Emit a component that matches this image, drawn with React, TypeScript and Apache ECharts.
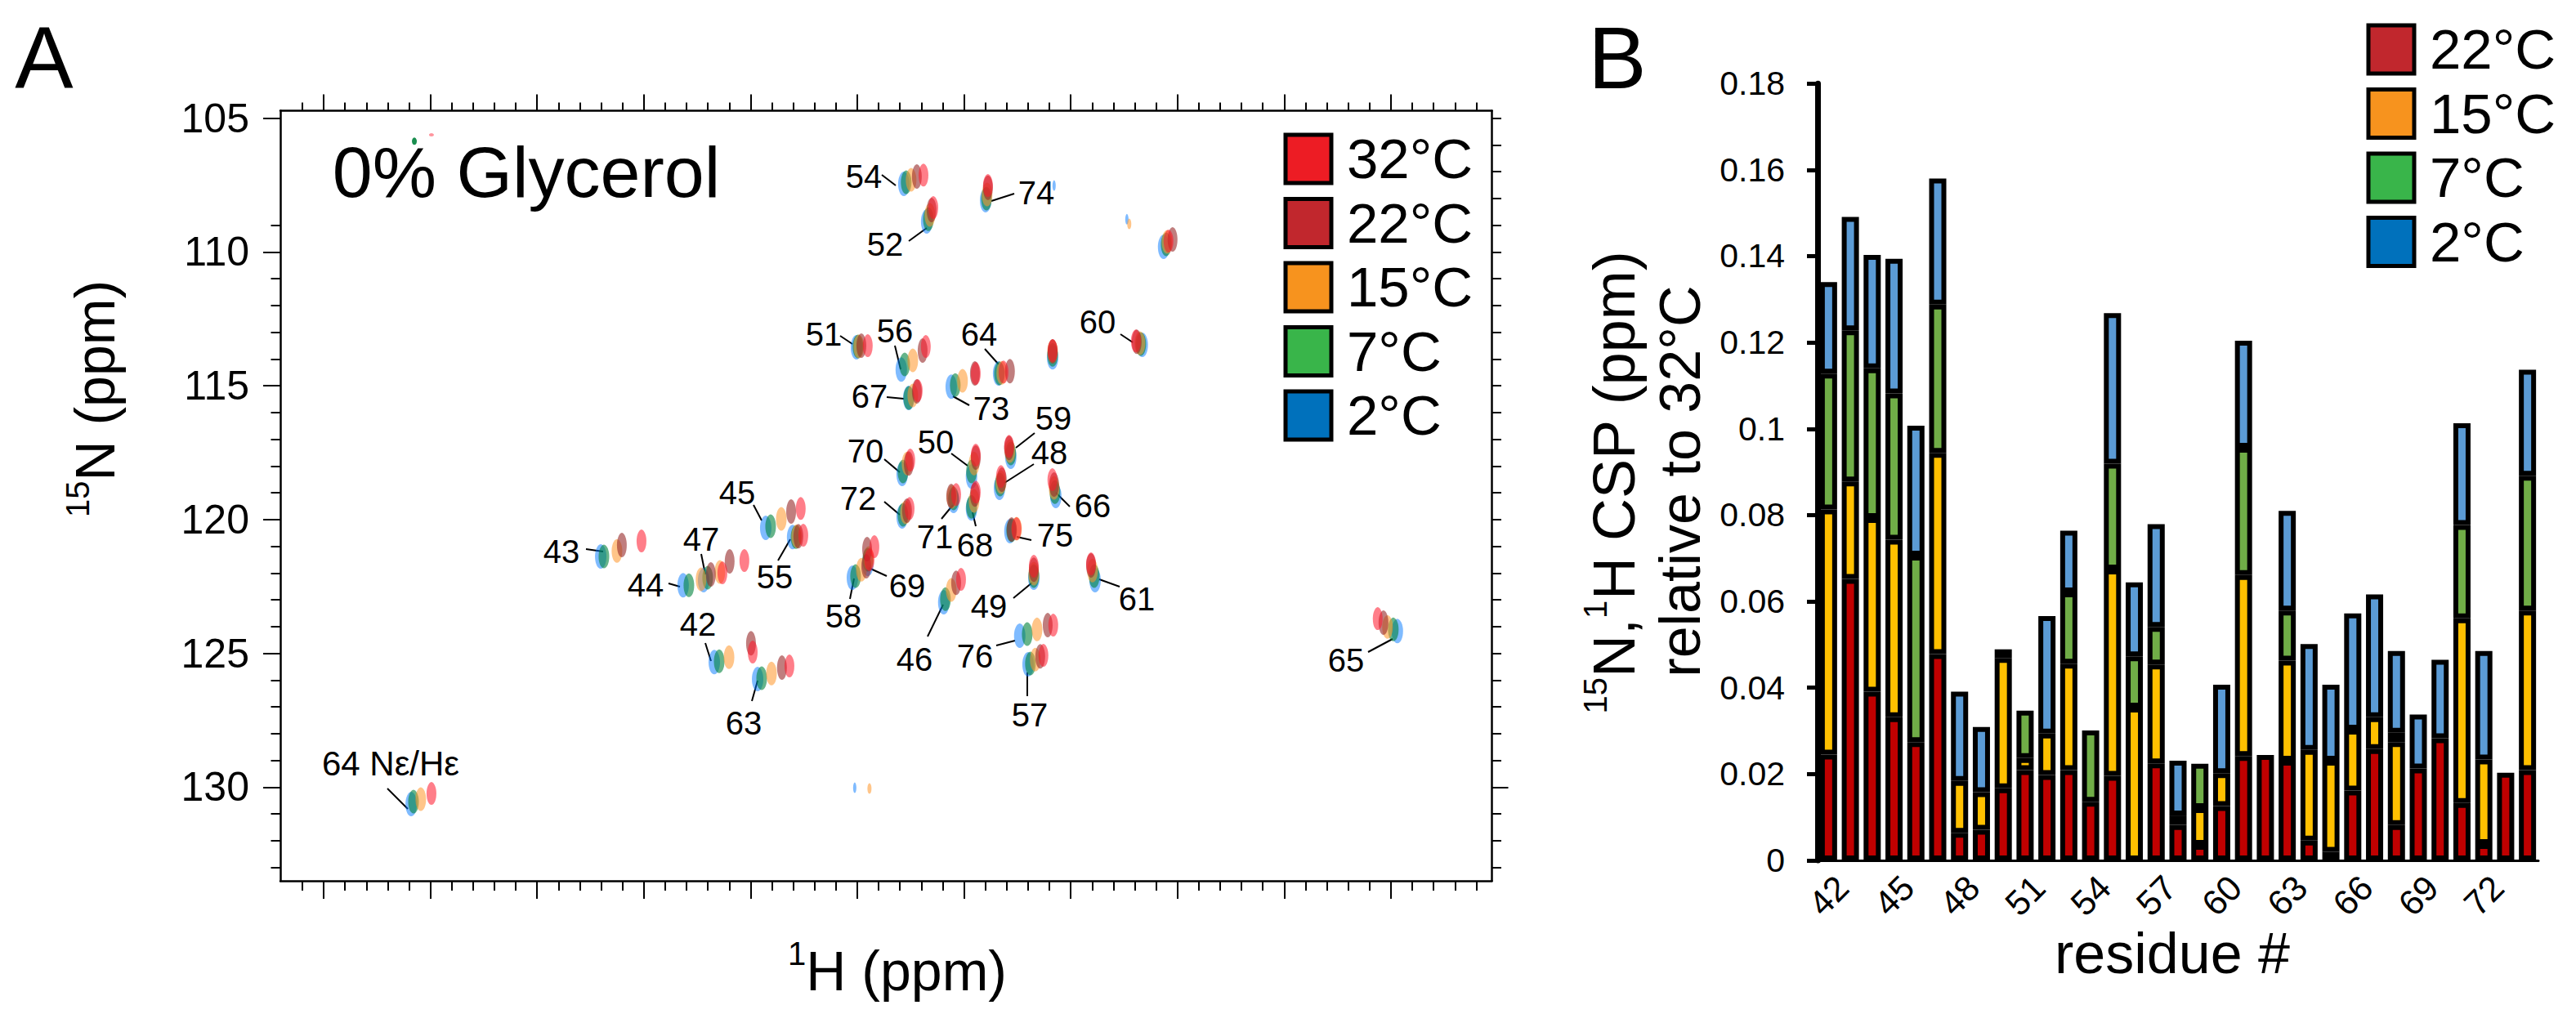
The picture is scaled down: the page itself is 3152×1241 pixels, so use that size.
import React, { useEffect, useRef } from "react";
import * as echarts from "echarts";

const FONT = "'Liberation Sans', Arial, sans-serif";

// ---------- Panel A: 1H/15N peak positions in ppm, one list per temperature.
// Order: 43 44 47 45 55 42 63 58 69 46 49 61 76 57 72 70 71 68 50 75 48 66 59 54 74 52 (110) 51 56 64 73 67 (114) 60 65 64e
const peaks2C = [[9.702,121.38],[9.316,122.45],[9.220,122.26],[8.929,120.31],[8.803,120.65],[9.170,125.32],[8.967,125.96],[8.523,122.17],[8.451,121.65],[8.095,123.09],[7.673,122.17],[7.386,122.26],[7.739,124.34],[7.700,125.41],[8.290,119.88],[8.290,118.29],[8.049,119.30],[7.965,119.58],[7.965,118.39],[7.785,120.43],[7.834,118.81],[7.570,119.12],[7.781,117.65],[8.282,107.45],[7.899,108.06],[8.175,108.86],[7.065,109.80],[8.504,113.56],[8.294,114.39],[7.838,114.54],[8.060,115.03],[8.259,115.45],[7.585,113.93],[7.165,113.47],[5.970,124.16],[10.590,130.63]];
const peaks7C = [[9.687,121.38],[9.289,122.45],[9.201,122.17],[8.906,120.25],[8.787,120.65],[9.147,125.29],[8.948,125.93],[8.508,122.11],[8.451,121.50],[8.087,122.97],[7.673,122.11],[7.390,122.11],[7.704,124.28],[7.689,125.38],[8.286,119.82],[8.286,118.20],[8.049,119.21],[7.965,119.52],[7.965,118.20],[7.777,120.40],[7.831,118.69],[7.574,118.97],[7.781,117.53],[8.271,107.39],[7.895,108.00],[8.167,108.77],[7.053,109.71],[8.497,113.53],[8.278,114.20],[7.834,114.54],[8.041,114.97],[8.259,115.45],[7.585,113.84],[7.172,113.44],[5.989,124.10],[10.579,130.54]];
const peaks15C = [[9.626,121.17],[9.232,122.23],[9.144,121.96],[8.856,119.97],[8.784,120.62],[9.101,125.14],[8.902,125.75],[8.481,121.87],[8.447,121.44],[8.060,122.63],[7.673,122.02],[7.398,121.90],[7.658,124.10],[7.666,125.23],[8.274,119.73],[8.267,117.90],[8.057,119.15],[7.953,119.30],[7.953,117.90],[7.754,120.34],[7.827,118.60],[7.578,118.81],[7.785,117.44],[8.248,107.30],[7.892,107.85],[8.160,108.61],[7.049,109.62],[8.493,113.53],[8.240,114.05],[7.823,114.51],[8.007,114.81],[8.240,115.36],[7.585,113.71],[7.176,113.41],[6.016,124.01],[10.545,130.45]];
const peaks22C = [[9.603,120.95],[9.186,122.05],[9.098,121.56],[8.810,119.70],[8.776,120.62],[8.998,124.62],[8.853,125.53],[8.458,121.74],[8.454,121.10],[8.037,122.36],[7.673,121.87],[7.405,121.71],[7.608,123.94],[7.643,125.11],[8.267,119.67],[8.259,117.90],[8.060,119.12],[7.949,119.06],[7.945,117.68],[7.777,120.37],[7.823,118.51],[7.578,118.69],[7.789,117.32],[8.221,107.18],[7.888,107.60],[8.152,108.43],[7.023,109.53],[8.481,113.50],[8.194,113.68],[7.785,114.45],[7.949,114.54],[8.221,115.21],[7.585,113.71],[7.191,113.35],[6.035,123.85]];
const peaks32C = [[9.511,120.80],[9.132,121.99],[9.029,121.53],[8.765,119.58],[8.753,120.58],[8.990,124.95],[8.818,125.47],[8.443,121.50],[8.420,121.01],[8.014,122.23],[7.673,121.74],[7.405,121.65],[7.582,123.94],[7.628,125.07],[8.255,119.58],[8.252,117.77],[8.037,119.06],[7.945,118.97],[7.945,117.59],[7.754,120.34],[7.827,118.39],[7.586,118.51],[7.789,117.26],[8.190,107.12],[7.888,107.51],[8.144,108.34],[7.042,109.59],[8.451,113.50],[8.179,113.53],[7.815,114.48],[7.945,114.54],[8.217,115.18],[7.585,113.68],[7.195,113.32],[6.062,123.70],[10.495,130.23]];
const specks2C = [[7.237,108.77],[7.578,107.51],[8.512,130.02]];
const specks7C = [[10.575,105.86]];
const specks15C = [[7.226,108.95],[8.443,130.05]];
const specks32C = [[10.495,105.62]];

const nTickLabels = [105, 110, 115, 120, 125, 130];
const nMinorLeftHidden = [106, 107, 108];
const hMajorTicks = [11, 10.5, 10, 9.5, 9, 8.5, 8, 7.5, 7, 6.5, 6];

// ---------- Panel B: per-temperature CSP contributions
const residues = ["42","43","44","45","46","47","48","49","50","51","52","53","54","55","56","57","58","59","60","61","62","63","64","65","66","67","68","69","70","71","72","73","74"];
const csp22 = [.0245,.0652,.0391,.0332,.0274,.0478,.0064,.0071,.0167,.0209,.0198,.0209,.0136,.0196,null,.0225,.0082,.0036,.0126,.0242,.0244,.0231,.0046,.002,.0162,.0258,.0082,.0213,.0283,.0133,.0038,.0203,.0209];
const csp15 = [.0568,.0226,.0402,.0411,null,.0466,.012,.0087,.0302,.0028,.0096,.0247,null,.0478,.0354,.0229,.0022,.0085,.0076,.0419,null,.0232,.021,.0211,.0141,.0074,.0192,null,null,.0428,.0196,null,.037];
const csp7 = [.0315,.035,.0347,.0339,.0432,.0344,null,null,.002,.011,null,.0165,.0165,.0245,.0119,.0087,null,.0103,null,.0295,null,.0116,null,null,null,null,.0022,null,null,.0216,null,null,.0312];
const csp2 = [.0212,.0263,.0263,.0312,.0301,.0292,.0207,.0151,null,null,.0272,.0143,null,.0349,.0171,.0238,.0127,null,.0205,.0248,null,.0231,.0245,.0176,.0269,.0284,.0189,.0125,.0182,.0236,.0251,null,.0246];

// ---------- Layout of the peak annotations (label centre, leader start and end, page pixels)
const peakNotes: [string, number, number, number, number, number, number][] = [
  ["45",902,603,922,618,932,637],["43",687,675,717,672,738,675],["47",858,660,858,678,863,703],
  ["44",790,716,818,714,832,718],["55",948,706,952,686,967,660],["42",854,764,863,787,870,809],
  ["63",910,885,920,858,927,833],["58",1032,754,1040,733,1045,708],["69",1110,717,1085,705,1063,695],
  ["46",1119,807,1135,779,1154,740],["49",1210,742,1240,732,1263,713],["76",1193,803,1219,790,1242,784],
  ["57",1260,875,1257,852,1257,823],["72",1050,610,1082,614,1101,630],["71",1144,657,1152,635,1166,618],
  ["68",1193,667,1194,644,1190,627],["75",1291,655,1262,661,1244,657],["66",1337,619,1309,620,1292,603],
  ["61",1391,733,1370,718,1345,709],["65",1647,808,1674,798,1704,782],["70",1059,552,1082,562,1101,578],
  ["50",1145,541,1164,555,1184,570],["48",1284,554,1265,568,1229,591],["54",1057,216,1079,214,1096,227],
  ["74",1268,236,1241,237,1213,246],["52",1083,299,1112,295,1134,279],["51",1008,409,1028,411,1043,421],
  ["56",1095,405,1095,423,1102,452],["64",1198,409,1205,427,1222,446],["60",1343,394,1371,409,1386,419],
  ["67",1064,485,1085,486,1106,488],["73",1213,500,1186,496,1166,485],["59",1289,512,1266,530,1243,548],
];

const PEAK = "path://M0,-1 C0.6,-0.95 1,-0.5 1,0 C1,0.55 0.6,1 0,1 C-0.6,1 -1,0.55 -1,0 C-1,-0.5 -0.6,-0.95 0,-1Z";

const gridA = { left: 343, top: 135.6, width: 1482.5, height: 942.4, outerBoundsMode: "none" };
const gridB = { left: 2224, top: 102.2, width: 882, height: 950.8, outerBoundsMode: "none" };

const hBase = { type: "value", gridIndex: 0, min: 5.527, max: 11.203, inverse: true, splitLine: { show: false }, axisLabel: { show: false } };
const nBase = { type: "value", gridIndex: 0, min: 104.722, max: 133.5, inverse: true, splitLine: { show: false } };
const tickStyle = { color: "#000", width: 2 };
const frame = { show: true, onZero: false, lineStyle: { color: "#000", width: 2.5 } };

function hAxis(position: string, values: number[], length: number, showLine: boolean) {
  return { ...hBase, position, axisLine: showLine ? frame : { show: false }, axisTick: { show: true, customValues: values, length, lineStyle: tickStyle } };
}
function nAxis(position: string, values: number[], length: number, showLine: boolean, labels?: number[]) {
  return {
    ...nBase, position,
    axisLine: showLine ? frame : { show: false },
    axisTick: { show: true, customValues: values, length, lineStyle: tickStyle },
    axisLabel: labels
      ? { show: true, customValues: labels, fontSize: 50, fontFamily: FONT, color: "#000", margin: 38, padding: [0, 0, 7, 0] }
      : { show: false },
  };
}

function peakSeries(name: string, data: number[][], color: string, opacity: number, size: number[]) {
  return { type: "scatter", name, xAxisIndex: 0, yAxisIndex: 0, data, symbol: PEAK, symbolSize: size, itemStyle: { color, opacity }, silent: true };
}
function cspSeries(name: string, data: (number | null)[], color: string) {
  return {
    type: "bar", name, xAxisIndex: 4, yAxisIndex: 4, stack: "csp", data, barWidth: 21,
    itemStyle: { color, borderColor: "#000", borderWidth: 6 },
  };
}
function legendEntry(name: string, color: string) {
  return { name, icon: "rect", itemStyle: { color, opacity: 1, borderColor: "#000", borderWidth: 5 } };
}
const legendCommon = {
  orient: "vertical", itemWidth: 56, itemHeight: 59, selectedMode: false, padding: 0,
  textStyle: { fontSize: 69, fontFamily: FONT, color: "#000", padding: [0, 0, 0, 14] },
};
function label(text: string, x: number, y: number, fontSize: number, extra: any = {}) {
  return { type: "text", x, y, silent: true, style: { text, fontSize, fontFamily: FONT, fill: "#000", align: "center", verticalAlign: "middle", ...extra.style }, rotation: extra.rotation || 0 };
}
const supRich = (size: number, big: number) => ({ s: { fontSize: size, fontFamily: FONT, fill: "#000", verticalAlign: "top", lineHeight: big * 1.2 }, m: { fontSize: big, fontFamily: FONT, fill: "#000", lineHeight: big * 1.2 } });

export default function App() {
  const ref = useRef<HTMLDivElement>(null);
  useEffect(() => {
    document.body.style.margin = "0";
    const chart = echarts.init(ref.current!, null, { renderer: "svg" });

    const hMinor: number[] = [];
    for (let i = 0; i <= 55; i++) {
      const v = Math.round((11.1 - i * 0.1) * 10) / 10;
      if (!hMajorTicks.includes(v)) hMinor.push(v);
    }
    const nMinor: number[] = [];
    for (let v = 105; v <= 133; v++) if (!nTickLabels.includes(v)) nMinor.push(v);
    const nMinorLeft = nMinor.filter((v) => !nMinorLeftHidden.includes(v));
    const nMinorRight = [...nTickLabels.filter((v) => v !== 130), ...nMinor];

    const notes: any[] = [];
    peakNotes.forEach(([t, lx, ly, x1, y1, x2, y2]) => {
      notes.push({ type: "line", silent: true, shape: { x1, y1, x2, y2 }, style: { stroke: "#000", lineWidth: 2 } });
      notes.push(label(t, lx, ly, 40));
    });
    notes.push({ type: "line", silent: true, shape: { x1: 474, y1: 965, x2: 499, y2: 990 }, style: { stroke: "#000", lineWidth: 2 } });
    notes.push(label("64 Nε/Hε", 478, 934, 42));

    chart.setOption({
      animation: false,
      backgroundColor: "#fff",
      grid: [gridA, gridB],
      xAxis: [
        hAxis("bottom", hMajorTicks, 22, true),
        hAxis("bottom", hMinor, 12, false),
        hAxis("top", hMajorTicks, 20, true),
        hAxis("top", hMinor, 10, false),
        {
          type: "category", gridIndex: 1, data: residues, position: "bottom",
          axisLine: { show: true, lineStyle: { color: "#000", width: 3 } }, axisTick: { show: false },
          axisLabel: { interval: 2, rotate: 45, align: "center", verticalAlign: "middle", margin: 43, fontSize: 43, fontFamily: FONT, color: "#000" },
        },
      ],
      yAxis: [
        nAxis("left", nTickLabels, 21, true, nTickLabels),
        nAxis("left", nMinorLeft, 11.5, false),
        nAxis("right", [130], 20, true),
        nAxis("right", nMinorRight, 11.5, false),
        {
          type: "value", gridIndex: 1, min: 0, max: 0.18, interval: 0.02, position: "left", splitLine: { show: false },
          axisLine: { show: true, onZero: false, lineStyle: { color: "#000", width: 7 } },
          axisTick: { show: true, length: 13, lineStyle: { color: "#000", width: 5 } },
          axisLabel: { fontSize: 41, fontFamily: FONT, color: "#000", margin: 40 },
        },
      ],
      legend: [
        {
          ...legendCommon, left: 1570.5, top: 160, itemGap: 9.5,
          data: [legendEntry("32°C", "#ED1C24"), legendEntry("22°C", "#C1272D"), legendEntry("15°C", "#F7931E"), legendEntry("7°C", "#39B54A"), legendEntry("2°C", "#0071BC")],
        },
        {
          ...legendCommon, left: 2895.5, top: 26, itemGap: 9.5,
          data: [legendEntry("22°C", "#C1272D"), legendEntry("15°C", "#F7931E"), legendEntry("7°C", "#39B54A"), legendEntry("2°C", "#0071BC")],
        },
      ],
      series: [
        peakSeries("2°C", peaks2C, "#0077FF", 0.5, [14, 30]),
        peakSeries("7°C", peaks7C, "#00823C", 0.6, [13, 29]),
        peakSeries("15°C", peaks15C, "#FF9628", 0.55, [13, 29]),
        peakSeries("22°C", peaks22C, "#962828", 0.6, [12, 30]),
        peakSeries("32°C", peaks32C, "#FF1428", 0.55, [12, 28]),
        peakSeries("2°C", specks2C, "#0077FF", 0.5, [4, 13]),
        peakSeries("7°C", specks7C, "#00823C", 0.9, [6, 9]),
        peakSeries("15°C", specks15C, "#FF9628", 0.55, [5, 13]),
        peakSeries("32°C", specks32C, "#FF1428", 0.45, [6, 4]),
        cspSeries("22°C", csp22, "#C00000"),
        cspSeries("15°C", csp15, "#FFC000"),
        cspSeries("7°C", csp7, "#70AD47"),
        cspSeries("2°C", csp2, "#5B9BD5"),
      ],
      graphic: [
        label("A", 54, 71, 107),
        label("B", 1979, 71, 107),
        label("0% Glycerol", 644, 210, 88),
        { type: "text", x: 1098, y: 1188, silent: true, style: { text: "{s|1}{m|H (ppm)}", align: "center", verticalAlign: "middle", rich: supRich(40, 68) } },
        { type: "text", x: 116, y: 488, rotation: Math.PI / 2, silent: true, style: { text: "{s|15}{m|N (ppm)}", align: "center", verticalAlign: "middle", rich: supRich(40, 68) } },
        { type: "text", x: 1975, y: 590, rotation: Math.PI / 2, silent: true, style: { text: "{s|15}{m|N,}{s|1}{m|H CSP (ppm)}", align: "center", verticalAlign: "middle", rich: supRich(40, 72) } },
        label("relative to 32°C", 2056, 589, 70, { rotation: Math.PI / 2 }),
        label("residue #", 2658, 1167, 70),
        ...notes,
      ],
    });
    return () => chart.dispose();
  }, []);
  return <div ref={ref} style={{ width: 3152, height: 1241 }} />;
}
